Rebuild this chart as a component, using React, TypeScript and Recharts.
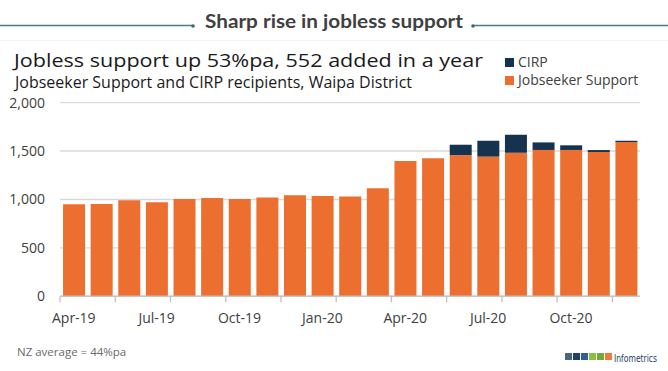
import React from 'react';
import { BarChart, Bar, XAxis, YAxis, CartesianGrid } from 'recharts';

const months = [
  'Apr-19', 'May-19', 'Jun-19', 'Jul-19', 'Aug-19', 'Sep-19', 'Oct-19', 'Nov-19', 'Dec-19',
  'Jan-20', 'Feb-20', 'Mar-20', 'Apr-20', 'May-20', 'Jun-20', 'Jul-20', 'Aug-20', 'Sep-20',
  'Oct-20', 'Nov-20', 'Dec-20',
];
const jobseekerSupport = [
  950, 953, 992, 971, 1005, 1015, 1005, 1020, 1043,
  1036, 1030, 1116, 1398, 1426, 1457, 1442, 1483, 1511,
  1511, 1490, 1593,
];
const cirp = [
  0, 0, 0, 0, 0, 0, 0, 0, 0,
  0, 0, 0, 0, 0, 108, 164, 184, 78,
  48, 20, 13,
];
const yTicks = [0, 500, 1000, 1500, 2000];
const seriesNames = ['CIRP', 'Jobseeker Support'];
const headerTitle = 'Sharp rise in jobless support';
const mainTitle = 'Jobless support up 53%pa, 552 added in a year';
const subTitle = 'Jobseeker Support and CIRP recipients, Waipa District';
const footnote = 'NZ average = 44%pa';
const logoText = 'Infometrics';

const ORANGE = '#EC6F2F';
const NAVY = '#15324F';
const FONT = '"Open Sans", "Noto Sans", sans-serif';
const TEXT = '#404040';

const data = months.map((m, i) => ({ month: m, jobseeker: jobseekerSupport[i], cirp: cirp[i] }));

const XTick = (props: any) => {
  const { x, y, payload, index } = props;
  const half = payload && typeof payload.offset === 'number' && payload.offset > 0 ? payload.offset : 13.8;
  return (
    <g>
      {index % 2 === 0 && (
        <line x1={x - half} x2={x - half} y1={y} y2={y + 6} stroke="#bfbfbf" strokeWidth={1.3} />
      )}
      {index % 3 === 0 && (
        <text x={x} y={y + 27} textAnchor="middle" fontSize={14} fontFamily={FONT} fill={TEXT}>
          {payload.value}
        </text>
      )}
    </g>
  );
};

const logoColors = ['#4a6583', '#23406a', '#2f5f94', '#8cbf3f', '#74a83a', '#f07a33'];

export default function App() {
  return (
    <div style={{ position: 'absolute', left: 0, top: 0, width: 668, height: 371, background: '#fff', overflow: 'hidden' }}>
      <div style={{ position: 'absolute', left: 0, top: 0 }}>
        <BarChart
          width={668}
          height={371}
          data={data}
          margin={{ top: 102.6, right: 28, left: 0, bottom: 44.7 }}
          barCategoryGap="11%"
        >
          <CartesianGrid vertical={false} stroke="#d9d9d9" strokeWidth={1.4} />
          <XAxis
            dataKey="month"
            interval={0}
            tickLine={false}
            tickSize={0}
            tickMargin={0}
            height={30}
            axisLine={{ stroke: '#c4c4c4', strokeWidth: 1.4 }}
            tick={<XTick />}
          />
          <YAxis
            domain={[0, 2000]}
            ticks={yTicks}
            width={60}
            axisLine={false}
            tickLine={false}
            tickSize={0}
            tickMargin={15}
            tick={{ fontSize: 14, fontFamily: FONT, fill: TEXT }}
            tickFormatter={(v: number) => v.toLocaleString('en-US')}
          />
          <Bar dataKey="jobseeker" stackId="a" fill={ORANGE} isAnimationActive={false} />
          <Bar dataKey="cirp" stackId="a" fill={NAVY} isAnimationActive={false} />
        </BarChart>
      </div>
      <svg width={668} height={371} style={{ position: 'absolute', left: 0, top: 0, pointerEvents: 'none' }}>
        <line x1={0} x2={192} y1={25.5} y2={25.5} stroke="#4b7a8a" strokeWidth={1.3} />
        <circle cx={193} cy={26} r={1.8} fill="#3c6676" />
        <line x1={474} x2={668} y1={25.5} y2={25.5} stroke="#4b7a8a" strokeWidth={1.3} />
        <circle cx={473} cy={26} r={1.8} fill="#3c6676" />
        <text x={334} y={28} textAnchor="middle" fontSize={18} fontWeight={700} fontFamily='Lato, "Open Sans", sans-serif' fill={TEXT} textLength={258} lengthAdjust="spacingAndGlyphs">
          {headerTitle}
        </text>
        <line x1={0} x2={668} y1={40.5} y2={40.5} stroke="#f3f3f3" strokeWidth={1} />
        <text x={14} y={67} fontSize={19} fontFamily={FONT} fill="#1a1a1a" textLength={469} lengthAdjust="spacingAndGlyphs">
          {mainTitle}
        </text>
        <text x={15} y={88} fontSize={15.5} fontFamily={FONT} fill="#1a1a1a" textLength={397} lengthAdjust="spacingAndGlyphs">
          {subTitle}
        </text>
        <rect x={505} y={58} width={9} height={9} fill={NAVY} />
        <text x={518} y={67} fontSize={14} fontFamily={FONT} fill={TEXT}>{seriesNames[0]}</text>
        <rect x={505} y={76} width={9} height={9} fill={ORANGE} />
        <text x={518} y={85} fontSize={14} fontFamily={FONT} fill={TEXT}>{seriesNames[1]}</text>
        <text x={17} y={356} fontSize={11.5} fontFamily={FONT} fill="#6a6a6a">{footnote}</text>
        {logoColors.map((c, i) => (
          <rect key={i} x={565 + i * 8} y={353} width={7} height={7} fill={c} />
        ))}
        <text x={614} y={362} fontSize={11} fontFamily='"Liberation Sans Narrow", "DejaVu Sans Condensed", sans-serif' fill="#1f3a5f" textLength={43} lengthAdjust="spacingAndGlyphs">
          {logoText}
        </text>
      </svg>
    </div>
  );
}
